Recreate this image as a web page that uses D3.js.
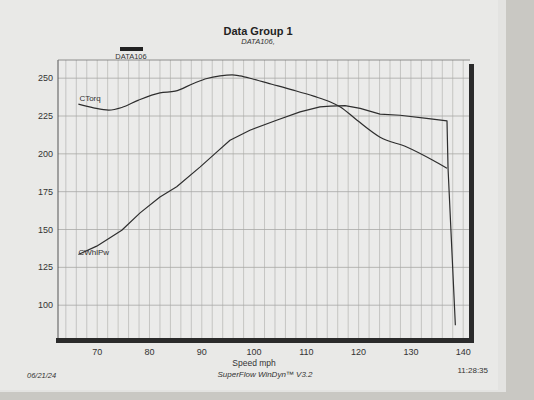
<!DOCTYPE html>
<html>
<head>
<meta charset="utf-8">
<script src="https://cdn.jsdelivr.net/npm/d3@7"></script>
<style>
  body { margin: 0; background: #cfcfcb; }
  svg { display: block; font-family: "Liberation Sans", Arial, sans-serif; }
</style>
</head>
<body>
<div id="chart"></div>
<script>
// dyno run
const speedTorq = [66.4, 69.3, 72.2, 74.7, 77.9, 82.0, 84.9, 88.4, 91.0, 93.5, 95.8, 97.3, 99.9, 103.4, 107.5, 111.4, 114.6, 116.5, 119.7, 124.1, 129.3, 134.2, 136.9];
const torq      = [232.8, 230.4, 228.9, 230.6, 235.5, 240.3, 241.4, 246.5, 249.8, 251.5, 252.2, 251.5, 249.3, 246.0, 242.1, 238.1, 234.3, 231.0, 222.2, 211.0, 204.4, 195.8, 190.5];

const speedPw = [66.4, 69.9, 74.7, 78.2, 82.0, 85.2, 89.7, 92.9, 95.4, 99.2, 104.3, 108.8, 112.6, 114.6, 117.4, 120.3, 124.1, 127.9, 133.0, 136.9, 137.1, 138.5];
const whlPw   = [133.5, 139.0, 149.5, 161.0, 171.5, 178.2, 191.4, 201.3, 209.0, 215.6, 222.2, 227.7, 231.0, 231.5, 231.8, 230.0, 226.2, 225.5, 223.4, 221.8, 190.5, 86.7];

const xTicks = [70, 80, 90, 100, 110, 120, 130, 140];
const yTicks = [100, 125, 150, 175, 200, 225, 250];
const xGrid = d3.range(64, 142, 2);

const width = 534, height = 400;
const plot = { left: 58, right: 470, top: 60, bottom: 340 };

const svg = d3.select("#chart").append("svg")
  .attr("width", width)
  .attr("height", height);

// paper
svg.append("rect").attr("x", 0).attr("y", 0).attr("width", width).attr("height", height).attr("fill", "#c9c8c3");
svg.append("rect").attr("x", 0).attr("y", 0).attr("width", 506).attr("height", 392).attr("fill", "#e3e3e1");
svg.append("rect").attr("x", 0).attr("y", 0).attr("width", 498).attr("height", 390).attr("fill", "#e9e9e7");

const x = d3.scaleLinear().domain([62.5, 141.3]).range([plot.left, plot.right]);
const y = d3.scaleLinear().domain([77, 262]).range([plot.bottom, plot.top]);

// plot background
svg.append("rect")
  .attr("x", plot.left).attr("y", plot.top)
  .attr("width", plot.right - plot.left).attr("height", plot.bottom - plot.top)
  .attr("fill", "#ebebea");

// grid
svg.append("g").selectAll("line").data(xGrid).join("line")
  .attr("x1", d => x(d)).attr("x2", d => x(d))
  .attr("y1", plot.top).attr("y2", plot.bottom)
  .attr("stroke", "#b4b4b2").attr("stroke-width", 0.7);

svg.append("g").selectAll("line").data(yTicks).join("line")
  .attr("x1", plot.left).attr("x2", plot.right)
  .attr("y1", d => y(d)).attr("y2", d => y(d))
  .attr("stroke", "#a8a8a6").attr("stroke-width", 0.8);

// frame: thin left/top, heavy bottom/right
svg.append("line").attr("x1", plot.left).attr("x2", plot.left).attr("y1", plot.top).attr("y2", plot.bottom)
  .attr("stroke", "#555").attr("stroke-width", 1);
svg.append("line").attr("x1", plot.left).attr("x2", plot.right).attr("y1", plot.top).attr("y2", plot.top)
  .attr("stroke", "#777").attr("stroke-width", 0.8);
svg.append("rect").attr("x", plot.left - 2).attr("y", plot.bottom - 2).attr("width", plot.right - plot.left + 6).attr("height", 5)
  .attr("fill", "#2b2b2b");
svg.append("rect").attr("x", plot.right - 1).attr("y", plot.top + 4).attr("width", 5).attr("height", plot.bottom - plot.top - 3)
  .attr("fill", "#2b2b2b");

// axis labels
svg.append("g").selectAll("text").data(yTicks).join("text")
  .attr("x", plot.left - 5).attr("y", d => y(d) + 3)
  .attr("text-anchor", "end").attr("font-size", 9).attr("fill", "#333")
  .text(d => d);

svg.append("g").selectAll("text").data(xTicks).join("text")
  .attr("x", d => x(d)).attr("y", 355)
  .attr("text-anchor", "middle").attr("font-size", 9).attr("fill", "#333")
  .text(d => d);

svg.append("text").attr("x", x(100)).attr("y", 366)
  .attr("text-anchor", "middle").attr("font-size", 8.5).attr("fill", "#333")
  .text("Speed  mph");

// curves
const smooth = d3.line().curve(d3.curveMonotoneX);
const straight = d3.line();
svg.append("path")
  .attr("d", smooth(speedTorq.map((s, i) => [x(s), y(torq[i])])))
  .attr("fill", "none").attr("stroke", "#2e2e2e").attr("stroke-width", 1.2);
svg.append("path")
  .attr("d", straight(speedPw.map((s, i) => [x(s), y(whlPw[i])])))
  .attr("fill", "none").attr("stroke", "#2e2e2e").attr("stroke-width", 1.2)
  .attr("stroke-linejoin", "round");

svg.append("text").attr("x", x(speedTorq[0]) + 1).attr("y", y(torq[0]) - 3)
  .attr("font-size", 8).attr("fill", "#333").text("CTorq");
svg.append("text").attr("x", x(speedPw[0])).attr("y", y(whlPw[0]) + 1)
  .attr("font-size", 8).attr("fill", "#333").text("CWhlPw");

// titles
svg.append("text").attr("x", 258).attr("y", 35)
  .attr("text-anchor", "middle").attr("font-size", 11).attr("font-weight", "bold").attr("fill", "#222")
  .text("Data Group 1");
svg.append("text").attr("x", 258).attr("y", 44)
  .attr("text-anchor", "middle").attr("font-size", 7.5).attr("font-style", "italic").attr("fill", "#333")
  .text("DATA106,");

// legend
svg.append("rect").attr("x", 120).attr("y", 47).attr("width", 23).attr("height", 4).attr("fill", "#222");
svg.append("text").attr("x", 131).attr("y", 59)
  .attr("text-anchor", "middle").attr("font-size", 7.5).attr("fill", "#333")
  .text("DATA106");

// footer
svg.append("text").attr("x", 27).attr("y", 378)
  .attr("font-size", 7.5).attr("font-style", "italic").attr("fill", "#333")
  .text("06/21/24");
svg.append("text").attr("x", 265).attr("y", 377)
  .attr("text-anchor", "middle").attr("font-size", 8).attr("font-style", "italic").attr("fill", "#333")
  .text("SuperFlow WinDyn™ V3.2");
svg.append("text").attr("x", 488).attr("y", 373)
  .attr("text-anchor", "end").attr("font-size", 8).attr("fill", "#333")
  .text("11:28:35");
</script>
</body>
</html>
